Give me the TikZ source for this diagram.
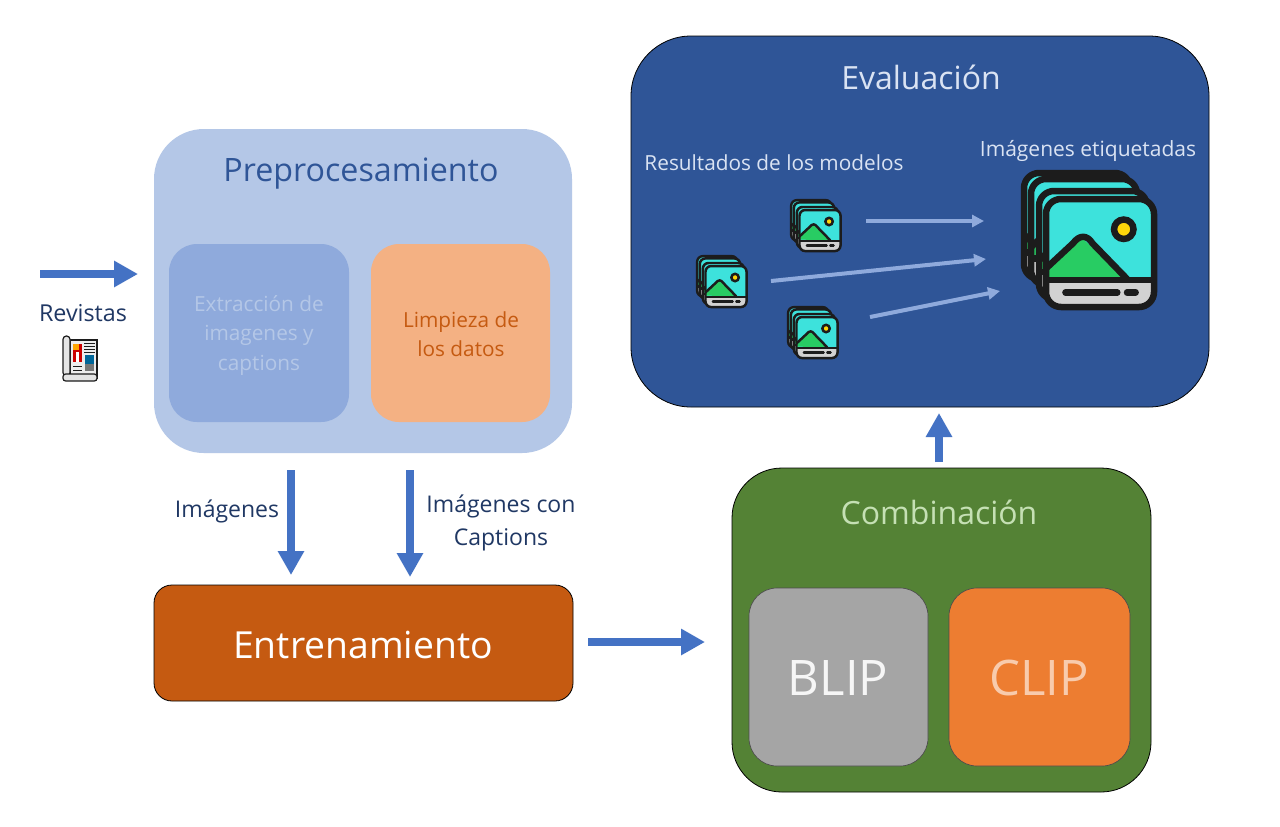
\documentclass[tikz,border=0pt]{standalone}
\usepackage{fontspec}
\setmainfont{Open Sans}
\usetikzlibrary{arrows.meta}
\definecolor{blueA}{HTML}{4472C4}
\definecolor{blueL}{HTML}{B4C7E7}
\definecolor{blueM}{HTML}{8FAADC}
\definecolor{blueD}{HTML}{2F5597}
\definecolor{blueT}{HTML}{DAE3F3}
\definecolor{navyT}{HTML}{203864}
\definecolor{peach}{HTML}{F4B183}
\definecolor{rust}{HTML}{C55A11}
\definecolor{greenD}{HTML}{548235}
\definecolor{greenL}{HTML}{C5E0B4}
\definecolor{greyB}{HTML}{A5A5A5}
\definecolor{orangeC}{HTML}{ED7D31}
\definecolor{peachL}{HTML}{F8CBAD}
\definecolor{iconK}{HTML}{1C1C1C}
\definecolor{iconC}{HTML}{3DE2DC}
\definecolor{iconG}{HTML}{28CC63}
\definecolor{iconY}{HTML}{FFD60A}
\definecolor{iconS}{HTML}{D2D2D2}
\newcommand{\fpx}[2][1.4]{\fontsize{\fpeval{#2*0.75}pt}{\fpeval{#2*0.75*#1}pt}\selectfont}
\tikzset{
  panel/.style={inner sep=0pt,outer sep=0pt,anchor=north west},
  lbl/.style={inner sep=0pt,align=center,anchor=center},
  flow/.style={draw=blueA,line width=7.5*0.75pt,-{Triangle[length=24*0.75pt,width=25*0.75pt]}},
  thin arrow/.style={draw=blueM,line width=4*0.75pt,-{Triangle[length=12*0.75pt,width=12*0.75pt]}},
}
\newcommand{\pbox}[8]{%
  \node[panel,minimum width=#4*0.75pt,minimum height=#5*0.75pt,rounded corners=#6*0.75pt,fill=#7,#8] (#1) at (#2,#3) {};}
\newcommand{\imgcard}[4]{%
  \begin{scope}[shift={(#1,#2)}]
    \fill[iconS,rounded corners=\rr pt] (0,0) rectangle (#3,#3);
    \begin{scope}
      \clip[rounded corners=\rr pt] (0,0) rectangle (#3,#3);
      \fill[iconC] (0,0) rectangle (#3,#3*0.75);
      \fill[iconG] (0,#3*0.72) -- (0,#3*0.6) -- (#3*0.33,#3*0.36) -- (#3*0.75,#3*0.74) -- cycle;
      \draw[iconK,line width=\lw pt,line join=round] (-2,#3*0.66) -- (#3*0.25,#3*0.41) .. controls (#3*0.31,#3*0.33) and (#3*0.38,#3*0.33) .. (#3*0.43,#3*0.41) -- (#3*0.75,#3*0.74);
      \draw[iconK,line width=\lw pt] (0,#3*0.75) -- (#3,#3*0.75);
      \ifnum#4=1
      \draw[iconK,line width=\lw pt,line cap=round] (#3*0.18,#3*0.865) -- (#3*0.66,#3*0.865);
      \draw[iconK,line width=\lw pt,line cap=round] (#3*0.75,#3*0.865) -- (#3*0.83,#3*0.865);
      \fi
    \end{scope}
    \ifnum#4=1
    \draw[iconK,fill=iconY,line width=\lw pt] (#3*0.72,#3*0.28) circle (#3*0.09);
    \fi
    \draw[iconK,line width=\lw pt,rounded corners=\rr pt] (0,0) rectangle (#3,#3);
  \end{scope}}
\newcommand{\imgstack}[3]{%
  \begin{scope}[shift={(#1,#2)},x=#3*0.75pt,y=-#3*0.75pt]
    \pgfmathsetmacro{\lw}{#3*0.75*6.5}
    \pgfmathsetmacro{\rr}{#3*0.75*15}
    \imgcard{3}{3}{106}{0}
    \imgcard{10}{9}{106}{0}
    \imgcard{18}{21}{108}{0}
    \imgcard{25}{29}{108}{1}
  \end{scope}}
\begin{document}
\begin{tikzpicture}[x=0.75pt,y=-0.75pt]
\useasboundingbox (0,0) rectangle (1280,826);
\fill[white] (0,0) rectangle (1280,826);

% Preprocesamiento
\pbox{pre}{154}{129}{418}{324}{50}{blueL}{}
\node[lbl,text=blueD,font=\fpx{32.2}] (preT) at (361,174) {Preprocesamiento};
\pbox{ext}{169}{244}{180}{178}{28}{blueM}{}
\node[lbl,text=blueL,font=\fpx{20.8}] (extT) at (259,335.5) {Extracción de\\imagenes y\\captions};
\pbox{lim}{371}{244}{179}{178}{28}{peach}{}
\node[lbl,text=rust,font=\fpx{20.8}] (limT) at (461,334) {Limpieza de\\los datos};

% Revistas
\coordinate (revA) at (40,274);
\coordinate (revB) at (138,274);
\draw[flow] (revA) -- (revB);
\node[lbl,text=navyT,font=\fpx{23.3}] (rev) at (83,313) {Revistas};

% newspaper icon
\begin{scope}[line width=0.9pt,draw=iconK]
  \draw[fill=iconS!40] (70,340) rectangle (97,378);
  \fill[red!80!black] (73,344) rectangle (82,362);
  \fill[white] (76,352) rectangle (79,362);
  \fill[orange!70!yellow] (73,344) rectangle (79,350);
  \foreach \yy in {343,346,349,352} \draw[line width=0.6pt] (84,\yy) -- (95,\yy);
  \fill[teal!80!blue] (85,355) rectangle (94,364);
  \fill[iconK!60] (85,364) rectangle (94,371);
  \foreach \yy in {366,370} \draw[line width=0.6pt] (73,\yy) -- (82,\yy);
  \draw[fill=iconS!60,rounded corners=2.5pt] (63,336) rectangle (70,376);
  \draw[fill=iconS!60,rounded corners=2pt] (63,374) rectangle (97,381);
\end{scope}

% Down arrows
\coordinate (d1a) at (291,470);
\coordinate (d1b) at (291,575);
\coordinate (d2a) at (410,470);
\coordinate (d2b) at (410,577);
\draw[flow] (d1a) -- (d1b);
\draw[flow] (d2a) -- (d2b);
\node[lbl,text=navyT,font=\fpx{23}] (imgs) at (227,511) {Imágenes};
\node[lbl,text=navyT,font=\fpx{23}] (imgc) at (501,523) {Imágenes con\\Captions};

% Entrenamiento
\pbox{ent}{154}{585}{419}{116}{18}{rust}{draw=black,line width=0.6pt}
\node[lbl,text=white,font=\fpx{37.3}] (entT) at (363,645) {Entrenamiento};

\coordinate (hA) at (588,642);
\coordinate (hB) at (705,642);
\draw[flow] (hA) -- (hB);

% Combinacion
\pbox{com}{732}{468}{419}{324}{50}{greenD}{draw=black,line width=0.6pt}
\node[lbl,text=greenL,font=\fpx{32}] (comT) at (939,512) {Combinación};
\pbox{blip}{749}{588}{179}{178}{28}{greyB}{draw=black!70,line width=0.5pt}
\node[lbl,text=white!90!greyB,font=\fpx{49}] (blipT) at (838,678) {BLIP};
\pbox{clip}{949}{588}{181}{178}{28}{orangeC}{draw=black!70,line width=0.5pt}
\node[lbl,text=peachL,font=\fpx{49}] (clipT) at (1039,678) {CLIP};

\coordinate (uA) at (939,462);
\coordinate (uB) at (939,413);
\draw[flow,line width=8*0.75pt] (uA) -- (uB);

% Evaluacion
\pbox{eva}{631}{36}{578}{371}{60}{blueD}{draw=black,line width=0.6pt}
\node[lbl,text=blueT,font=\fpx{32}] (evaT) at (921,77) {Evaluación};
\node[lbl,text=blueT,font=\fpx{20.8}] (resT) at (774,163) {Resultados de los modelos};
\node[lbl,text=blueT,font=\fpx{21}] (etiT) at (1088,151) {Imágenes etiquetadas};

\imgstack{696}{255}{0.38}
\imgstack{790}{199}{0.38}
\imgstack{787}{306}{0.38}
\imgstack{1021}{170}{1}

\coordinate (t1a) at (866,221);
\coordinate (t1b) at (984,221);
\coordinate (t2a) at (771,281);
\coordinate (t2b) at (986,259);
\coordinate (t3a) at (870,317);
\coordinate (t3b) at (1000,291);
\draw[thin arrow] (t1a) -- (t1b);
\draw[thin arrow] (t2a) -- (t2b);
\draw[thin arrow] (t3a) -- (t3b);
\end{tikzpicture}
\end{document}
